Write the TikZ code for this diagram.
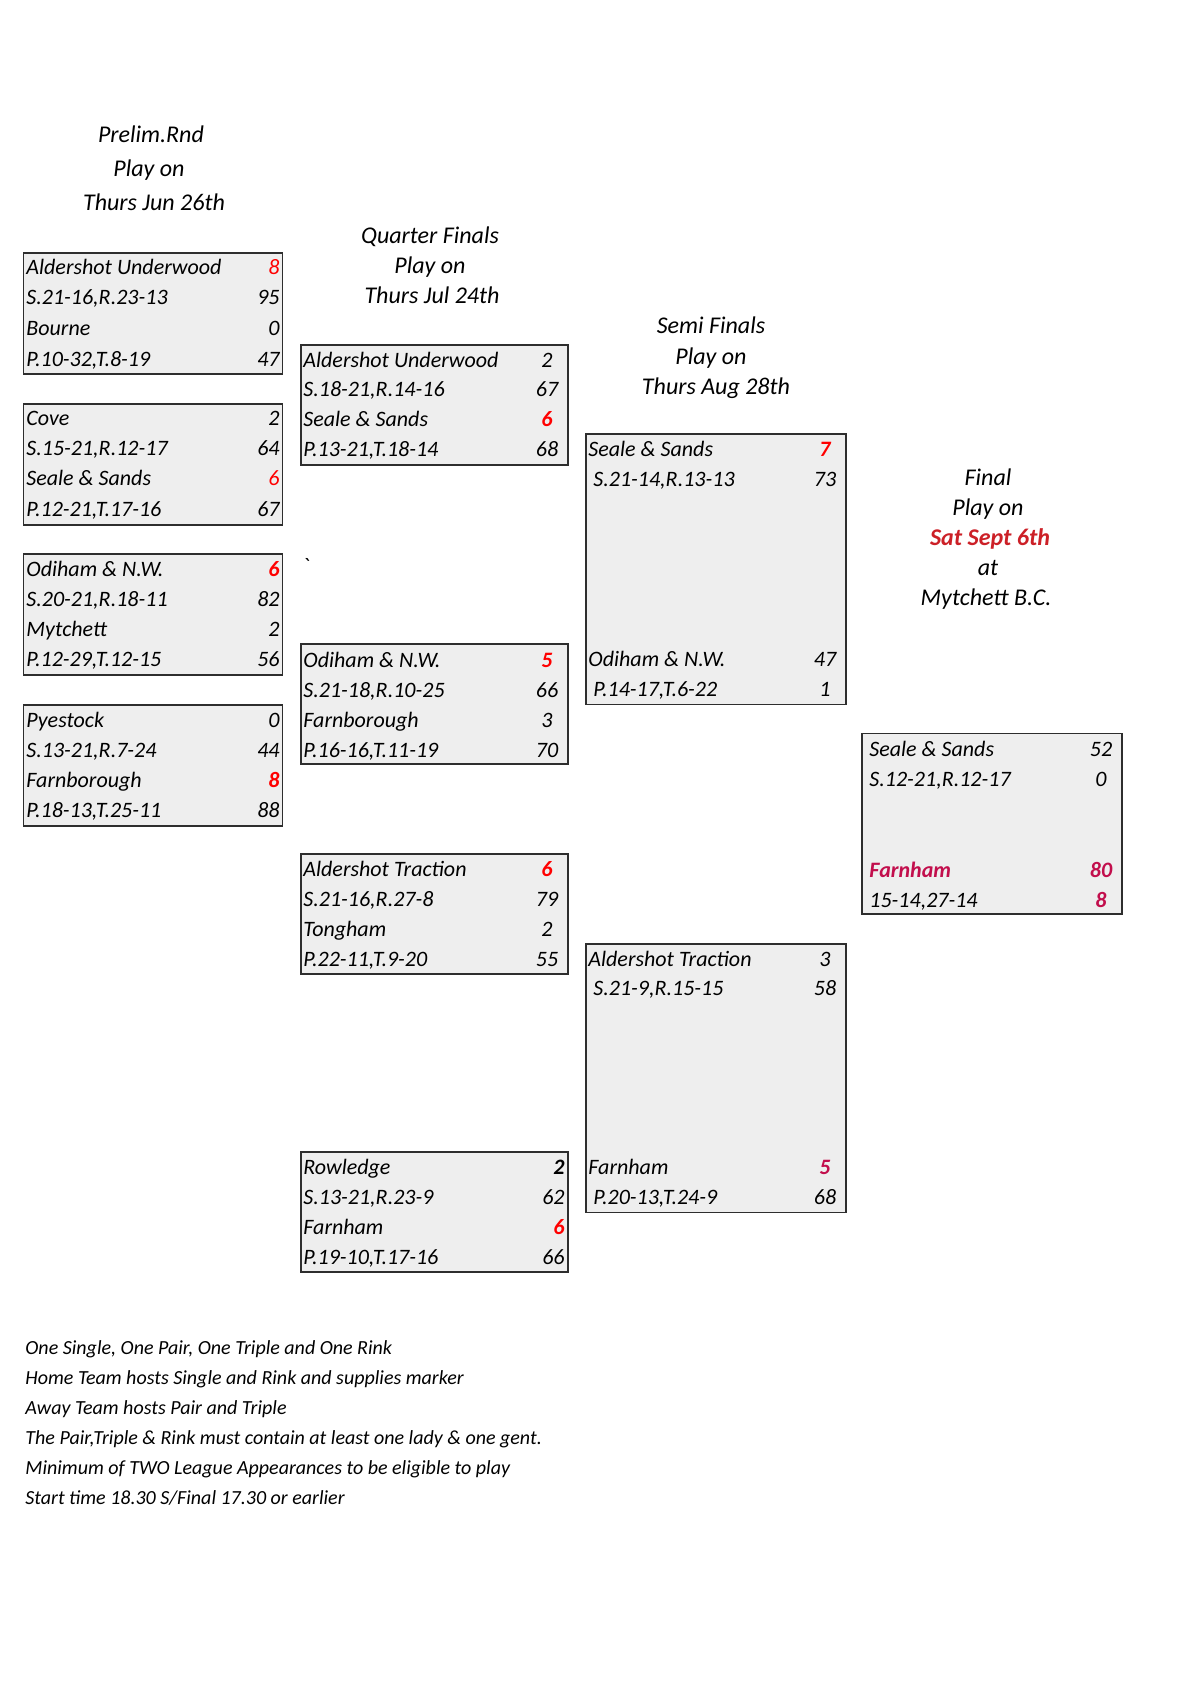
\documentclass[tikz,border=0pt]{standalone}
\usepackage{fontspec}
\setmainfont{Carlito}
\newfontfamily\tickfont{Carlito}
\definecolor{boxfill}{HTML}{EEEEEE}
\definecolor{boxline}{HTML}{2E2E2E}
\definecolor{winred}{HTML}{FF0000}
\definecolor{crim}{HTML}{C20E4C}
\definecolor{datered}{HTML}{CC2027}
\newcommand\bxfont{\fontsize{11}{13}\selectfont\itshape}
\newcommand\hdfont{\fontsize{12}{14}\selectfont\itshape}
\newcommand\ntfont{\fontsize{10}{12}\selectfont\itshape}
\begin{document}
\begin{tikzpicture}[x=0.5pt,y=-0.5pt,
  card/.style={draw=boxline, fill=boxfill, line width=0.9pt, inner sep=0pt, anchor=north west},
  pcard/.style={card, minimum width=129.5pt, minimum height=60.5pt},
  qcard/.style={card, minimum width=133.5pt, minimum height=60pt},
  txt/.style={inner sep=0pt, text height=7.5pt, text depth=0.5pt, font=\bxfont},
  lbl/.style={txt, anchor=west},
  nr/.style={txt, anchor=east},
  nc/.style={txt, anchor=center},
  hd/.style={inner sep=0pt, text height=8pt, text depth=0.5pt, font=\hdfont, anchor=center},
  note/.style={inner sep=0pt, text height=7pt, text depth=0.5pt, font=\ntfont, anchor=west},
  rb/.style={text=winred, font=\bxfont\bfseries},
  rr/.style={text=winred},
  cb/.style={text=crim, font=\bxfont\bfseries}]
\useasboundingbox (0,0) rectangle (1191,1684);
% ---------- headers
\node[hd] (h1a) at (151,135) {Prelim.Rnd};
\node[hd] (h1b) at (149,169) {Play on};
\node[hd] (h1c) at (154,203) {Thurs Jun 26th};
\node[hd] (h2a) at (430,236) {Quarter Finals};
\node[hd] (h2b) at (430,266) {Play on};
\node[hd] (h2c) at (432,296) {Thurs Jul 24th};
\node[hd] (h3a) at (711,326) {Semi Finals};
\node[hd] (h3b) at (711,357) {Play on};
\node[hd] (h3c) at (716,387) {Thurs Aug 28th};
\node[hd] (h4a) at (988,478) {Final};
\node[hd] (h4b) at (988,508) {Play on};
\node[hd, text=datered, font=\hdfont\bfseries] (h4c) at (990,538) {Sat Sept 6th};
\node[hd] (h4d) at (988,568) {at};
\node[hd] (h4e) at (986,598) {Mytchett B.C.};
% ---------- prelim boxes
\node[pcard] (p1) at (22.5,252) {};
\node[lbl] (p1a) at (26,268) {Aldershot Underwood};
\node[nr,rr] (p1an) at (280,268) {8};
\node[lbl] (p1b) at (26,298) {S.21-16,R.23-13};
\node[nr] (p1bn) at (280,298) {95};
\node[lbl] (p1c) at (26,329) {Bourne};
\node[nr] (p1cn) at (280,329) {0};
\node[lbl] (p1d) at (26,360) {P.10-32,T.8-19};
\node[nr] (p1dn) at (280,360) {47};

\node[pcard] (p2) at (22.5,403) {};
\node[lbl] (p2a) at (26,419) {Cove};
\node[nr] (p2an) at (280,419) {2};
\node[lbl] (p2b) at (26,449) {S.15-21,R.12-17};
\node[nr] (p2bn) at (280,449) {64};
\node[lbl] (p2c) at (26,478) {Seale \& Sands};
\node[nr,rr] (p2cn) at (280,478) {6};
\node[lbl] (p2d) at (26,509) {P.12-21,T.17-16};
\node[nr] (p2dn) at (280,509) {67};

\node[pcard] (p3) at (22.5,553) {};
\node[lbl] (p3a) at (26,569) {Odiham \& N.W.};
\node[nr,rb] (p3an) at (280,569) {6};
\node[lbl] (p3b) at (26,599) {S.20-21,R.18-11};
\node[nr] (p3bn) at (280,599) {82};
\node[lbl] (p3c) at (26,629) {Mytchett};
\node[nr] (p3cn) at (280,629) {2};
\node[lbl] (p3d) at (26,659) {P.12-29,T.12-15};
\node[nr] (p3dn) at (280,659) {56};

\node[pcard] (p4) at (22.5,704) {};
\node[lbl] (p4a) at (26,720) {Pyestock};
\node[nr] (p4an) at (280,720) {0};
\node[lbl] (p4b) at (26,750) {S.13-21,R.7-24};
\node[nr] (p4bn) at (280,750) {44};
\node[lbl] (p4c) at (26,780) {Farnborough};
\node[nr,rb] (p4cn) at (280,780) {8};
\node[lbl] (p4d) at (26,810) {P.18-13,T.25-11};
\node[nr] (p4dn) at (280,810) {88};
% ---------- quarter final boxes
\node[qcard] (q1) at (300,344) {};
\node[lbl] (q1a) at (303,361) {Aldershot Underwood};
\node[nc] (q1an) at (547,361) {2};
\node[lbl] (q1b) at (303,390) {S.18-21,R.14-16};
\node[nc] (q1bn) at (547,390) {67};
\node[lbl] (q1c) at (303,420) {Seale \& Sands};
\node[nc,rb] (q1cn) at (547,420) {6};
\node[lbl] (q1d) at (303,450) {P.13-21,T.18-14};
\node[nc] (q1dn) at (547,450) {68};

\node[txt, anchor=center, font=\tickfont\fontsize{11}{13}\selectfont] (tick) at (307,566) {`};

\node[qcard] (q2) at (300,643) {};
\node[lbl] (q2a) at (303,660) {Odiham \& N.W.};
\node[nc,rb] (q2an) at (547,660) {5};
\node[lbl] (q2b) at (303,690) {S.21-18,R.10-25};
\node[nc] (q2bn) at (547,690) {66};
\node[lbl] (q2c) at (303,720) {Farnborough};
\node[nc] (q2cn) at (547,720) {3};
\node[lbl] (q2d) at (303,750) {P.16-16,T.11-19};
\node[nc] (q2dn) at (547,750) {70};

\node[qcard] (q3) at (300,853) {};
\node[lbl] (q3a) at (303,869) {Aldershot Traction};
\node[nc,rb] (q3an) at (547,869) {6};
\node[lbl] (q3b) at (303,899) {S.21-16,R.27-8};
\node[nc] (q3bn) at (547,899) {79};
\node[lbl] (q3c) at (303,929) {Tongham};
\node[nc] (q3cn) at (547,929) {2};
\node[lbl] (q3d) at (303,959) {P.22-11,T.9-20};
\node[nc] (q3dn) at (547,959) {55};

\node[qcard] (q4) at (300,1151) {};
\node[lbl] (q4a) at (303,1167) {Rowledge};
\node[nr, font=\bxfont\bfseries] (q4an) at (565,1167) {2};
\node[lbl] (q4b) at (303,1197) {S.13-21,R.23-9};
\node[nr] (q4bn) at (565,1197) {62};
\node[lbl] (q4c) at (303,1227) {Farnham};
\node[nr,rb] (q4cn) at (565,1227) {6};
\node[lbl] (q4d) at (303,1257) {P.19-10,T.17-16};
\node[nr] (q4dn) at (565,1257) {66};
% ---------- semi final boxes
\node[card, minimum width=130pt, minimum height=135.3pt] (s1) at (585,433) {};
\node[lbl] (s1a) at (588,450) {Seale \& Sands};
\node[nc,rb] (s1an) at (825,450) {7};
\node[lbl] (s1b) at (593,480) {S.21-14,R.13-13};
\node[nc] (s1bn) at (825,480) {73};
\node[lbl] (s1c) at (588,659) {Odiham \& N.W.};
\node[nc] (s1cn) at (825,659) {47};
\node[lbl] (s1d) at (593,689) {P.14-17,T.6-22};
\node[nc] (s1dn) at (825,689) {1};

\node[card, minimum width=130pt, minimum height=134.3pt] (s2) at (585,943) {};
\node[lbl] (s2a) at (588,959) {Aldershot Traction};
\node[nc] (s2an) at (825,959) {3};
\node[lbl] (s2b) at (593,988) {S.21-9,R.15-15};
\node[nc] (s2bn) at (825,988) {58};
\node[lbl] (s2c) at (588,1167) {Farnham};
\node[nc,cb] (s2cn) at (825,1167) {5};
\node[lbl] (s2d) at (593,1197) {P.20-13,T.24-9};
\node[nc] (s2dn) at (825,1197) {68};
% ---------- final box
\node[card, minimum width=130pt, minimum height=90.3pt] (f1) at (861,732.5) {};
\node[lbl] (f1a) at (869,749.5) {Seale \& Sands};
\node[nc] (f1an) at (1101,749.5) {52};
\node[lbl] (f1b) at (869,779.5) {S.12-21,R.12-17};
\node[nc] (f1bn) at (1101,779.5) {0};
\node[lbl,cb] (f1c) at (869,870) {Farnham};
\node[nc,cb] (f1cn) at (1101,870) {80};
\node[lbl] (f1d) at (869,900) {15-14,27-14};
\node[nc,cb] (f1dn) at (1101,900) {8};
% ---------- notes
\node[note] (n1) at (25,1348) {One Single, One Pair, One Triple and One Rink};
\node[note] (n2) at (25,1378) {Home Team hosts Single and Rink and supplies marker};
\node[note] (n3) at (25,1408) {Away Team hosts Pair and Triple};
\node[note] (n4) at (25,1438) {The Pair,Triple \& Rink must contain at least one lady \& one gent.};
\node[note] (n5) at (25,1468) {Minimum of TWO League Appearances to be eligible to play};
\node[note] (n6) at (25,1498) {Start time 18.30 S/Final 17.30 or earlier};
\end{tikzpicture}
\end{document}
